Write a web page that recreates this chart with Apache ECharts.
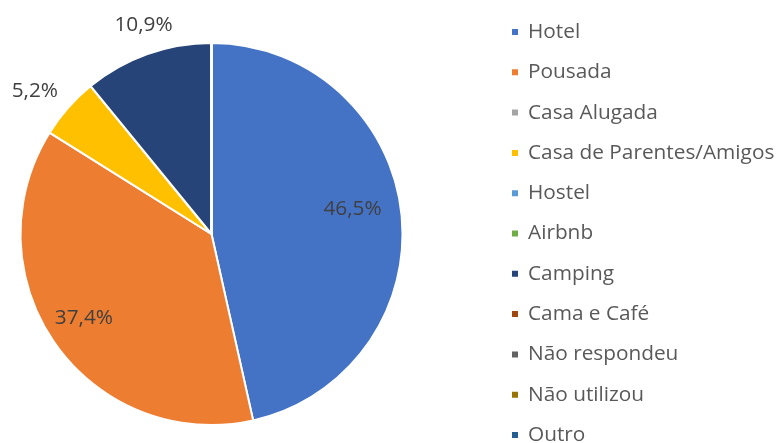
<!DOCTYPE html>
<html>
<head>
<meta charset="utf-8">
<script src="https://cdn.jsdelivr.net/npm/echarts@6/dist/echarts.min.js"></script>
<style>
  html, body { margin: 0; padding: 0; background: #fff; }
  #chart { width: 777px; height: 443px; }
</style>
</head>
<body>
<div id="chart"></div>
<script>
const categories = ['Hotel', 'Pousada', 'Casa Alugada', 'Casa de Parentes/Amigos', 'Hostel', 'Airbnb',
  'Camping', 'Cama e Café', 'Não respondeu', 'Não utilizou', 'Outro']
const values = [46.5, 37.4, 0, 5.2, 0, 0, 10.9, 0, 0, 0, 0]
const colors = ['#4472c4', '#ed7d31', '#a5a5a5', '#ffc000', '#5b9bd5', '#70ad47',
  '#264478', '#9e480e', '#636363', '#997300', '#255e91']

// 标签位置：半径系数 + 角度微调（度），模仿 Excel 的“最佳匹配”
const labelRatio = [0.75, 0.8, 0, 1.19, 0, 0, 1.15, 0, 0, 0, 0]
const labelTurn = [-3.7, 1.9, 0, -2.4, 0, 0, 1.6, 0, 0, 0, 0]

const cx = 211.5, cy = 234, r = 191
const total = values.reduce((a, b) => a + b, 0)

function labelPos(idx) {
  let cum = 0
  for (let i = 0; i < idx; i++) cum += values[i]
  const mid = (cum + values[idx] / 2) / total * Math.PI * 2 + labelTurn[idx] * Math.PI / 180
  const k = labelRatio[idx] * r
  return { x: cx + k * Math.sin(mid), y: cy - k * Math.cos(mid) }
}

const chart = echarts.init(document.getElementById('chart'))
chart.setOption({
  animation: false,
  color: colors,
  legend: {
    orient: 'vertical',
    left: 505,
    top: 14.5,
    height: 600,
    icon: 'rect',
    itemWidth: 8,
    itemHeight: 8,
    itemGap: 15.3,
    textStyle: { fontFamily: 'Open Sans', fontSize: 20.8, color: '#595959', lineHeight: 25, padding: [0, 0, 0, 4] },
    data: categories,
  },
  series: [{
    type: 'pie',
    center: [cx, cy],
    radius: r,
    startAngle: 90,
    clockwise: true,
    avoidLabelOverlap: false,
    itemStyle: { borderColor: '#fff', borderWidth: 2 },
    label: {
      show: true,
      position: 'inside',
      fontFamily: 'Open Sans',
      fontSize: 20.8,
      color: '#404040',
      align: 'center',
      verticalAlign: 'middle',
      formatter: (p) => p.value.toFixed(1).replace('.', ',') + '%',
    },
    labelLine: { show: false },
    labelLayout(params) {
      const pos = labelPos(params.dataIndex)
      return { x: pos.x, y: pos.y, align: 'center', verticalAlign: 'middle' }
    },
    emphasis: { disabled: true },
    data: categories.map((name, i) => ({
      name,
      value: values[i],
      label: { show: values[i] > 0 },
    })),
  }],
})
</script>
</body>
</html>
